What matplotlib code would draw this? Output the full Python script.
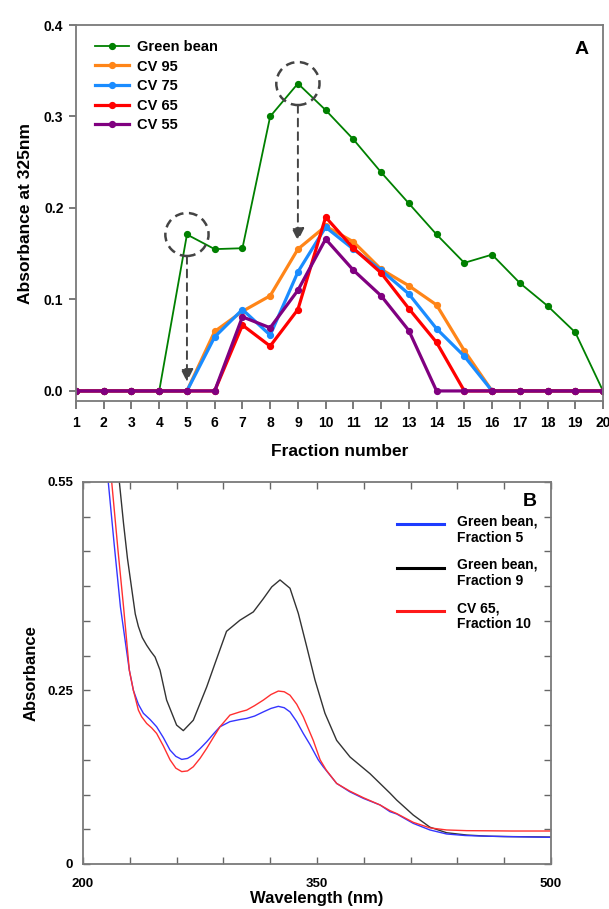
import numpy as np
import matplotlib
matplotlib.use("Agg")
import matplotlib.pyplot as plt
from matplotlib.patches import Ellipse
from matplotlib.ticker import FixedLocator, FixedFormatter

plt.rcParams['font.family'] = ['Liberation Sans', 'DejaVu Sans']
plt.rcParams['font.weight'] = 'bold'

# Panel A: absorbance at 325 nm per fraction
fractions = list(range(1, 21))
green_bean = [0, 0, 0, 0, 0.171, 0.155, 0.156, 0.300, 0.336, 0.307, 0.275, 0.239,
              0.205, 0.171, 0.140, 0.149, 0.118, 0.093, 0.064, 0]
cv95 = [0, 0, 0, 0, 0, 0.065, 0.087, 0.104, 0.155, 0.180, 0.163, 0.133,
        0.115, 0.094, 0.044, 0, 0, 0, 0, 0]
cv75 = [0, 0, 0, 0, 0, 0.059, 0.089, 0.061, 0.130, 0.179, 0.155, 0.132,
        0.106, 0.068, 0.038, 0, 0, 0, 0, 0]
cv65 = [0, 0, 0, 0, 0, 0, 0.072, 0.049, 0.089, 0.190, 0.156, 0.129,
        0.090, 0.053, 0, 0, 0, 0, 0, 0]
cv55 = [0, 0, 0, 0, 0, 0, 0.081, 0.069, 0.110, 0.166, 0.132, 0.104,
        0.066, 0, 0, 0, 0, 0, 0, 0]

# Panel B: UV spectra
wl_gb9 = [221, 223.3, 226, 228.5, 231.3, 233.5, 235.5, 238, 240.8, 243.5, 246.2, 249.4,
          253.6, 260, 264.3, 270.7, 279.3, 284.5, 292, 300.6, 309.2, 315.6, 321, 326.3,
          332.7, 338, 343.4, 348.7, 355.1, 362.6, 371.2, 384, 390.4, 396.8, 401.1, 411.7,
          422.4, 433.1, 446, 460, 472, 500]
abs_gb9 = [0.58, 0.55, 0.49, 0.44, 0.395, 0.36, 0.342, 0.326, 0.315, 0.306, 0.298, 0.279,
           0.236, 0.200, 0.192, 0.207, 0.255, 0.288, 0.335, 0.351, 0.363, 0.382, 0.399, 0.409,
           0.397, 0.361, 0.313, 0.265, 0.217, 0.178, 0.154, 0.130, 0.116, 0.102, 0.092, 0.0705,
           0.053, 0.045, 0.0417, 0.040, 0.0395, 0.0388]

wl_gb5 = [214.5, 216.2, 220, 224, 229.7, 232.3, 235.5, 238.7, 243, 247.2, 251.5, 255.8,
          259.5, 263.3, 267, 270.7, 275, 279.3, 283.5, 287.8, 294.2, 300.6, 304.9,
          310, 315.6, 320.5, 325.2, 329, 332.7, 337, 341.2, 345.5, 350.8, 354,
          362.6, 371, 379.7, 390.4, 396.8, 401.1, 411.7, 422.4, 433.1, 445, 454.5,
          470, 485, 499.4]
abs_gb5 = [0.58, 0.55, 0.46, 0.37, 0.279, 0.250, 0.230, 0.217, 0.208, 0.1976, 0.182, 0.164,
           0.155, 0.1506, 0.152, 0.157, 0.166, 0.176, 0.187, 0.1976, 0.205, 0.208, 0.2096,
           0.213, 0.219, 0.224, 0.227, 0.225, 0.219, 0.205, 0.188, 0.172, 0.150, 0.140,
           0.116, 0.104, 0.0945, 0.085, 0.0753, 0.072, 0.0585, 0.049, 0.0432, 0.041, 0.0403,
           0.0395, 0.039, 0.0384]

wl_cv65 = [216.5, 218.4, 222.5, 226, 229.7, 232.3, 235.5, 237.6, 240.8, 244, 247.2, 251.5,
           255.8, 259.5, 263.3, 267, 270.7, 275, 279.3, 283.5, 287.8, 294.2, 300.6, 304.9,
           310, 315.6, 320.5, 325.2, 329, 332.7, 337, 341.2, 347.6, 352, 356,
           362.6, 371, 379.7, 390.4, 396.8, 401.1, 411.7, 422.4, 433.1, 446, 460,
           475, 499.4]
abs_cv65 = [0.58, 0.55, 0.45, 0.37, 0.279, 0.250, 0.2216, 0.212, 0.2024, 0.196, 0.188, 0.170,
            0.150, 0.138, 0.133, 0.134, 0.140, 0.152, 0.1665, 0.182, 0.1976, 0.2144, 0.219, 0.2216,
            0.228, 0.236, 0.244, 0.249, 0.248, 0.243, 0.230, 0.212, 0.178, 0.150, 0.135,
            0.116, 0.105, 0.0955, 0.085, 0.0768, 0.0726, 0.060, 0.052, 0.049, 0.048, 0.0478,
            0.0475, 0.0475]

fig = plt.figure(figsize=(6.09, 9.09), dpi=100)
W, H = 609.0, 909.0

# ---------------- Panel A ----------------
ax1 = fig.add_axes([76 / W, 1 - 401 / H, 527 / W, 376 / H])
lw_thick = 2.3
ms = 4.2
ax1.plot(fractions, green_bean, color='#008000', lw=1.3, marker='o', ms=ms, label='Green bean')
ax1.plot(fractions, cv95, color='#FF8518', lw=lw_thick, marker='o', ms=ms, label='CV 95')
ax1.plot(fractions, cv75, color='#1A8CFF', lw=lw_thick, marker='o', ms=ms, label='CV 75')
ax1.plot(fractions, cv65, color='#FF0000', lw=lw_thick, marker='o', ms=ms, label='CV 65')
ax1.plot(fractions, cv55, color='#800080', lw=lw_thick, marker='o', ms=ms, label='CV 55')

ax1.set_xlim(1, 20)
ax1.set_ylim(-0.011, 0.4)
ax1.set_xticks(fractions)
ax1.set_yticks([0, 0.1, 0.2, 0.3, 0.4])
ax1.set_yticklabels(['0.0', '0.1', '0.2', '0.3', '0.4'])
ax1.tick_params(axis='both', direction='out', labelsize=10, color='#555555', width=1.1)
ax1.tick_params(axis='x', length=6, pad=5)
ax1.tick_params(axis='y', length=5, pad=4)
for sp in ax1.spines.values():
    sp.set_color('#7a7a7a')
    sp.set_linewidth(1.3)

ax1.set_xlabel('Fraction number', fontsize=12.5, fontweight='bold', labelpad=10)
ax1.set_ylabel('Absorbance at 325nm', fontsize=12.5, fontweight='bold', labelpad=8)
ax1.text(0.96, 0.936, 'A', transform=ax1.transAxes, fontsize=14, fontweight='bold',
         ha='center', va='center')

# dashed circles and arrows
circ_w = 43 / 27.6
circ_h = 43 / 915.0
for cx, cy in [(5, green_bean[4]), (9, green_bean[8])]:
    ax1.add_patch(Ellipse((cx, cy), circ_w, circ_h, fill=False, ls=(0, (3.5, 2.2)),
                          lw=1.8, edgecolor='#444444', zorder=6))
ax1.annotate('', xy=(5, 0.010), xytext=(5, green_bean[4] - circ_h / 2),
             arrowprops=dict(arrowstyle='-|>', ls=(0, (4, 3)), lw=1.4, color='#444444',
                             mutation_scale=19, shrinkA=0, shrinkB=0), zorder=6)
ax1.annotate('', xy=(9, 0.164), xytext=(9, green_bean[8] - circ_h / 2),
             arrowprops=dict(arrowstyle='-|>', ls=(0, (4, 3)), lw=1.4, color='#444444',
                             mutation_scale=19, shrinkA=0, shrinkB=0), zorder=6)

leg1 = ax1.legend(loc='upper left', bbox_to_anchor=(0.036, 0.96), frameon=False,
                  fontsize=10.5, handlelength=2.3, handletextpad=0.6, labelspacing=0.38,
                  borderpad=0, borderaxespad=0)

# ---------------- Panel B ----------------
ax2 = fig.add_axes([83 / W, 1 - 864 / H, 468 / W, 382 / H])
ax2.plot(wl_gb9, abs_gb9, color='#333333', lw=1.0, label='Green bean,\nFraction 9')
ax2.plot(wl_gb5, abs_gb5, color='#3535FF', lw=1.0, label='Green bean,\nFraction 5')
ax2.plot(wl_cv65, abs_cv65, color='#FF3030', lw=1.0, label='CV 65,\nFraction 10')

ax2.set_xlim(200, 500)
ax2.set_ylim(0, 0.55)
xt = list(range(200, 501, 30))
ax2.xaxis.set_major_locator(FixedLocator(xt))
ax2.xaxis.set_major_formatter(FixedFormatter([str(v) if v in (200, 350, 500) else '' for v in xt]))
yt = [round(0.05 * i, 2) for i in range(12)]
ax2.yaxis.set_major_locator(FixedLocator(yt))
ax2.yaxis.set_major_formatter(FixedFormatter([{0.0: '0', 0.25: '0.25', 0.55: '0.55'}.get(v, '') for v in yt]))
ax2.tick_params(axis='both', direction='in', top=True, right=True, length=5,
                width=1.0, color='#666666', labelsize=9.5)
ax2.tick_params(axis='x', pad=10)
ax2.tick_params(axis='y', pad=7)
for sp in ax2.spines.values():
    sp.set_color('#7a7a7a')
    sp.set_linewidth(1.3)

ax2.set_xlabel('Wavelength (nm)', fontsize=12, fontweight='bold', labelpad=1)
ax2.set_ylabel('Absorbance', fontsize=12, fontweight='bold', labelpad=6)
ax2.text(0.955, 0.95, 'B', transform=ax2.transAxes, fontsize=14, fontweight='bold',
         ha='center', va='center')

h, l = ax2.get_legend_handles_labels()
order = [1, 0, 2]
leg2 = ax2.legend([h[i] for i in order], [l[i] for i in order], loc='upper left',
                  bbox_to_anchor=(0.671, 0.915), frameon=False, fontsize=10,
                  handlelength=3.4, handletextpad=0.95, labelspacing=0.95,
                  borderpad=0, borderaxespad=0)
for line, c in zip(leg2.get_lines(), ['#1E3CFF', '#000000', '#FF1A1A']):
    line.set_linewidth(2.2)
    line.set_color(c)
    # legend handle sits level with the first text line, as in the original
    line.set_ydata(np.asarray(line.get_ydata(), dtype=float) + 4.3)

fig.savefig('out.png', dpi=100)
